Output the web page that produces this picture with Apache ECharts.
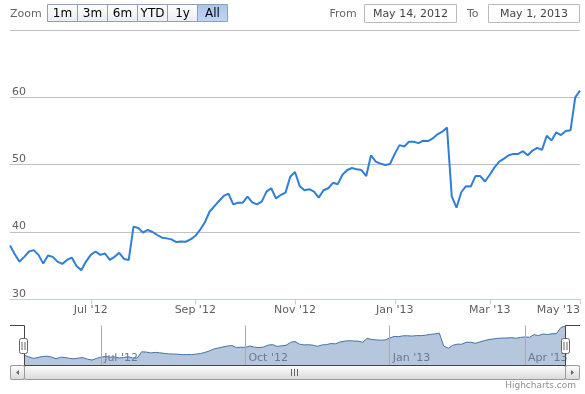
<!DOCTYPE html>
<html>
<head>
<meta charset="utf-8">
<script src="https://cdn.jsdelivr.net/npm/echarts@6/dist/echarts.min.js"></script>
<style>
html,body{margin:0;padding:0;background:#fff;}
#chart{width:585px;height:394px;}
</style>
</head>
<body>
<div id="chart"></div>
<script>
const dates = [
'2012-05-14','2012-05-16','2012-05-18','2012-05-22','2012-05-24','2012-05-29','2012-05-31',
'2012-06-04','2012-06-06','2012-06-08','2012-06-12','2012-06-14','2012-06-18','2012-06-20','2012-06-22','2012-06-26','2012-06-28',
'2012-07-02','2012-07-05','2012-07-09','2012-07-11','2012-07-13','2012-07-17','2012-07-19','2012-07-23','2012-07-25','2012-07-27','2012-07-31',
'2012-08-02','2012-08-06','2012-08-08','2012-08-10','2012-08-14','2012-08-16','2012-08-20','2012-08-22','2012-08-24','2012-08-28','2012-08-30',
'2012-09-04','2012-09-06','2012-09-10','2012-09-12','2012-09-14','2012-09-18','2012-09-20','2012-09-24','2012-09-26','2012-09-28',
'2012-10-02','2012-10-04','2012-10-08','2012-10-10','2012-10-12','2012-10-16','2012-10-18','2012-10-22','2012-10-24','2012-10-26','2012-10-31',
'2012-11-01','2012-11-05','2012-11-07','2012-11-09','2012-11-13','2012-11-15','2012-11-19','2012-11-21','2012-11-26','2012-11-28','2012-11-30',
'2012-12-04','2012-12-06','2012-12-10','2012-12-12','2012-12-14','2012-12-18','2012-12-20','2012-12-24','2012-12-27','2012-12-31',
'2013-01-02','2013-01-04','2013-01-08','2013-01-10','2013-01-14','2013-01-16','2013-01-18','2013-01-23','2013-01-25','2013-01-29','2013-01-31',
'2013-02-04','2013-02-06','2013-02-08','2013-02-12','2013-02-14','2013-02-19','2013-02-21','2013-02-25','2013-02-27',
'2013-03-01','2013-03-05','2013-03-07','2013-03-11','2013-03-13','2013-03-15','2013-03-19','2013-03-21','2013-03-25','2013-03-27',
'2013-04-01','2013-04-03','2013-04-08','2013-04-11','2013-04-15','2013-04-18','2013-04-23','2013-04-26','2013-04-30',
'2013-05-01'
];
const prices = [
38.0,36.7,35.6,36.3,37.1,37.3,36.6,35.3,36.5,36.3,
35.6,35.25,35.85,36.2,34.95,34.3,35.6,36.6,37.1,36.6,
36.8,35.85,36.3,36.9,36.0,35.85,40.8,40.6,39.9,40.3,
40.0,39.55,39.15,39.05,38.9,38.5,38.6,38.55,38.9,39.4,
40.3,41.4,43.0,43.8,44.6,45.35,45.7,44.1,44.35,44.35,
45.25,44.4,44.1,44.5,46.0,46.5,45.0,45.5,45.85,48.2,
48.9,46.8,46.2,46.35,46.0,45.1,46.2,46.5,47.3,47.1,
48.5,49.2,49.5,49.3,49.2,48.3,51.4,50.45,50.15,49.95,
50.1,51.6,52.9,52.7,53.4,53.4,53.2,53.56,53.5,53.9,
54.5,54.9,55.5,45.3,43.6,45.9,46.8,46.75,48.3,48.3,
47.5,48.5,49.6,50.45,50.9,51.4,51.6,51.6,52.0,51.4,
52.1,52.5,52.2,54.3,53.6,54.8,54.4,55.0,55.1,60.0,
61.0
];
const mainTickDates = ['2012-07-02','2012-09-04','2012-11-01','2013-01-02','2013-03-01','2013-05-01'];
const mainTickLabels = ["Jul '12","Sep '12","Nov '12","Jan '13","Mar '13","May '13"];
const navTickDates = ['2012-07-02','2012-10-02','2013-01-02','2013-04-01'];
const navTickLabels = ["Jul '12","Oct '12","Jan '13","Apr '13"];
const zoomButtons = ['1m','3m','6m','YTD','1y','All'];
const selectedButton = 'All';
const fromText = 'May 14, 2012';
const toText = 'May 1, 2013';

const FONT = '"DejaVu Sans", Verdana, sans-serif';

function txt(x, y, text, size, color, align) {
  return {
    type: 'text', silent: true,
    style: {
      x: x, y: y, text: text, fill: color,
      font: size + 'px ' + FONT,
      align: align || 'left', textAlign: align || 'left',
      verticalAlign: 'middle', textVerticalAlign: 'middle'
    }
  };
}
function vgrad(a, b) {
  return { type: 'linear', x: 0, y: 0, x2: 0, y2: 1, colorStops: [{offset: 0, color: a}, {offset: 1, color: b}] };
}

const graphics = [];
// range selector
graphics.push(txt(10, 14, 'Zoom', 11, '#666'));
zoomButtons.forEach(function (b, k) {
  const sel = b === selectedButton;
  graphics.push({
    type: 'rect', silent: true,
    shape: { x: 47.5 + 30 * k, y: 4.5, width: 30, height: 17 },
    style: { fill: sel ? vgrad('#a9c5ec', '#bfd5f4') : vgrad('#ffffff', '#ececec'), stroke: '#8da0b6', lineWidth: 1 }
  });
  graphics.push(txt(62.5 + 30 * k, 13.5, b, 12, '#000', 'center'));
});
graphics.push(txt(329.5, 14, 'From', 11, '#666'));
graphics.push({ type: 'rect', silent: true, shape: { x: 364.5, y: 4.5, width: 92, height: 18 }, style: { fill: '#fff', stroke: '#bbb', lineWidth: 1 } });
graphics.push(txt(410.5, 14, fromText, 11, '#444', 'center'));
graphics.push(txt(467, 14, 'To', 11, '#666'));
graphics.push({ type: 'rect', silent: true, shape: { x: 488.5, y: 4.5, width: 91, height: 18 }, style: { fill: '#fff', stroke: '#bbb', lineWidth: 1 } });
graphics.push(txt(534, 14, toText, 11, '#444', 'center'));

// scrollbar
graphics.push({ type: 'rect', silent: true, shape: { x: 10.5, y: 365.5, width: 569, height: 14 }, style: { fill: vgrad('#eeeeee', '#ffffff'), stroke: '#ccc', lineWidth: 1 } });
graphics.push({ type: 'rect', silent: true, shape: { x: 24.5, y: 365.5, width: 541, height: 14, r: 2 }, style: { fill: vgrad('#ffffff', '#d8d8d8'), stroke: '#999', lineWidth: 1 } });
[291.5, 294.5, 297.5].forEach(function (x) {
  graphics.push({ type: 'line', silent: true, shape: { x1: x, y1: 369, x2: x, y2: 376 }, style: { stroke: '#666', lineWidth: 1 } });
});
graphics.push({ type: 'rect', silent: true, shape: { x: 10.5, y: 365.5, width: 14, height: 14, r: 2 }, style: { fill: vgrad('#ffffff', '#d8d8d8'), stroke: '#999', lineWidth: 1 } });
graphics.push({ type: 'polygon', silent: true, shape: { points: [[19, 370], [19, 375], [16, 372.5]] }, style: { fill: '#666' } });
graphics.push({ type: 'rect', silent: true, shape: { x: 565.5, y: 365.5, width: 14, height: 14, r: 2 }, style: { fill: vgrad('#ffffff', '#d8d8d8'), stroke: '#999', lineWidth: 1 } });
graphics.push({ type: 'polygon', silent: true, shape: { points: [[571, 370], [571, 375], [574, 372.5]] }, style: { fill: '#666' } });

// navigator outline
graphics.push({ type: 'polyline', silent: true, z: 100, shape: { points: [[10, 325.5], [24.5, 325.5], [24.5, 365.5], [565.5, 365.5], [565.5, 325.5], [580, 325.5]] }, style: { stroke: '#444', lineWidth: 1, fill: null } });
// handles
[23.5, 565.5].forEach(function (cx) {
  graphics.push({ type: 'rect', silent: true, z: 101, shape: { x: cx - 4, y: 338.5, width: 8, height: 15, r: 2 }, style: { fill: '#fff', stroke: '#666', lineWidth: 1 } });
  [cx - 1.5, cx + 1.5].forEach(function (x) {
    graphics.push({ type: 'line', silent: true, z: 102, shape: { x1: x, y1: 342, x2: x, y2: 350 }, style: { stroke: '#666', lineWidth: 1 } });
  });
});
// credits
graphics.push(txt(576, 386, 'Highcharts.com', 9, '#909090', 'right'));

const chart = echarts.init(document.getElementById('chart'), null, { renderer: 'canvas' });
chart.setOption({
  animation: false,
  backgroundColor: '#fff',
  textStyle: { fontFamily: FONT },
  grid: [
    { left: 10, right: 5, top: 30, height: 269.3 },
    { left: 24.5, right: 19.5, top: 325.5, height: 40 }
  ],
  xAxis: [
    {
      type: 'category', gridIndex: 0, data: dates, boundaryGap: false,
      axisLine: { show: true, lineStyle: { color: '#C0D0E0', width: 1 } },
      axisTick: { show: true, length: 5, interval: function (i, v) { return mainTickDates.indexOf(v) >= 0; }, lineStyle: { color: '#C0D0E0' } },
      axisLabel: {
        show: true, interval: function (i, v) { return mainTickDates.indexOf(v) >= 0; },
        formatter: function (v) { return mainTickLabels[mainTickDates.indexOf(v)]; },
        color: '#606060', fontSize: 11, fontFamily: FONT, margin: 5, alignMaxLabel: 'right'
      },
      splitLine: { show: false }
    },
    {
      type: 'category', gridIndex: 1, data: dates, boundaryGap: false, z: 10,
      axisLine: { show: false }, axisTick: { show: false },
      axisLabel: {
        show: true, inside: true, interval: function (i, v) { return navTickDates.indexOf(v) >= 0; },
        formatter: function (v) { return navTickLabels[navTickDates.indexOf(v)]; },
        color: '#6a7a90', fontSize: 11, fontFamily: FONT, align: 'left', verticalAlign: 'bottom', margin: 2, padding: [0, 0, 0, 3]
      },
      splitLine: { show: true, interval: function (i, v) { return navTickDates.indexOf(v) >= 0; }, lineStyle: { color: '#aaaaaa', width: 1 } }
    }
  ],
  yAxis: [
    {
      type: 'value', gridIndex: 0, min: 30, max: 70, interval: 10,
      axisLine: { show: false }, axisTick: { show: false },
      axisLabel: { inside: true, margin: 2, color: '#606060', fontSize: 11, fontFamily: FONT, verticalAlign: 'bottom', showMaxLabel: false },
      splitLine: { show: true, lineStyle: { color: '#C0C0C0', width: 1 } }
    },
    {
      type: 'value', gridIndex: 1, min: 30, max: 61.5, show: false,
      splitLine: { show: false }
    }
  ],
  series: [
    {
      type: 'line', xAxisIndex: 0, yAxisIndex: 0, data: prices, showSymbol: false, symbol: 'none',
      lineStyle: { color: '#2f7ed8', width: 2 }, itemStyle: { color: '#2f7ed8' }, z: 5
    },
    {
      type: 'line', xAxisIndex: 1, yAxisIndex: 1, data: prices, showSymbol: false, symbol: 'none',
      lineStyle: { color: '#4572A7', width: 1 },
      areaStyle: { color: '#B5C7DC', opacity: 1, origin: 'start' }, z: 3
    }
  ],
  graphic: { elements: graphics }
});
</script>
</body>
</html>
